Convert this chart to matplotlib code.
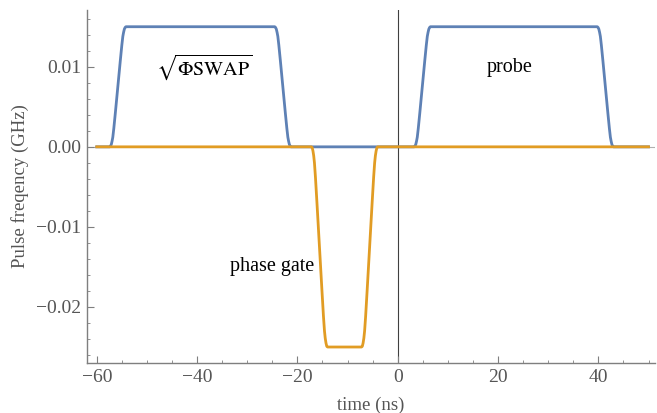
import matplotlib
matplotlib.use('Agg')
import matplotlib.pyplot as plt
from matplotlib.ticker import MultipleLocator

# sqrt(PhiSWAP) pulse + probe pulse (blue)
swap_t = [-60,
          -57.4, -57.25, -57.1, -56.95, -56.8, -56.6, -56.3, -55.8, -55.3, -55.0, -54.8, -54.65, -54.5, -54.35, -54.2,
          -24.5, -24.35, -24.2, -24.05, -23.9, -23.7, -23.4, -22.9, -22.4, -22.1, -21.9, -21.75, -21.6, -21.45, -21.3,
          3.3, 3.45, 3.6, 3.75, 3.9, 4.1, 4.4, 4.9, 5.4, 5.7, 5.9, 6.05, 6.2, 6.35, 6.5,
          39.8, 39.95, 40.1, 40.25, 40.4, 40.6, 40.9, 41.4, 41.9, 42.2, 42.4, 42.55, 42.7, 42.85, 43.0,
          50]
swap_f = [0,
          0, 0.0001, 0.0003, 0.0007, 0.0012, 0.0023, 0.0042, 0.0075, 0.0108, 0.0127, 0.0138, 0.0143, 0.0147, 0.0149, 0.015,
          0.015, 0.0149, 0.0147, 0.0143, 0.0138, 0.0127, 0.0108, 0.0075, 0.0042, 0.0023, 0.0012, 0.0007, 0.0003, 0.0001, 0,
          0, 0.0001, 0.0003, 0.0007, 0.0012, 0.0023, 0.0042, 0.0075, 0.0108, 0.0127, 0.0138, 0.0143, 0.0147, 0.0149, 0.015,
          0.015, 0.0149, 0.0147, 0.0143, 0.0138, 0.0127, 0.0108, 0.0075, 0.0042, 0.0023, 0.0012, 0.0007, 0.0003, 0.0001, 0,
          0]

# phase gate pulse (orange)
phase_t = [-60,
           -17.2, -17.05, -16.9, -16.75, -16.6, -16.4, -16.1, -15.6, -15.1, -14.8, -14.6, -14.45, -14.3, -14.15, -14.0,
           -7.2, -7.05, -6.9, -6.75, -6.6, -6.4, -6.1, -5.6, -5.1, -4.8, -4.6, -4.45, -4.3, -4.15, -4.0,
           50]
phase_f = [0,
           0, -0.0001, -0.0005, -0.0011, -0.002, -0.0038, -0.007, -0.0125, -0.018, -0.0212, -0.023, -0.0239, -0.0245, -0.0249, -0.025,
           -0.025, -0.0249, -0.0245, -0.0239, -0.023, -0.0212, -0.018, -0.0125, -0.007, -0.0038, -0.002, -0.0011, -0.0005, -0.0001, 0,
           0]

xticks = [-60, -40, -20, 0, 20, 40]
yticks = [-0.02, -0.01, 0.0, 0.01]

plt.rcParams['font.family'] = ['Liberation Serif', 'DejaVu Serif']
plt.rcParams['mathtext.fontset'] = 'stix'

fig = plt.figure(figsize=(6.57, 4.13), dpi=100)
ax = fig.add_axes([0.132, 0.121, 0.865, 0.855])

gray = '#7f7f7f'
ax.axhline(0, color='#b0b0b0', lw=0.8, zorder=1)
ax.axvline(0, color='#404040', lw=0.8, zorder=1)

ax.plot(swap_t, swap_f, color='#5e81b5', lw=2.0, solid_joinstyle='round', zorder=3)
ax.plot(phase_t, phase_f, color='#e19c24', lw=2.0, solid_joinstyle='round', zorder=4)

ax.set_xlim(-62, 51.3)
ax.set_ylim(-0.027, 0.0171)

ax.set_xticks(xticks)
ax.set_xticklabels(['\u2212%d' % -v if v < 0 else '%d' % v for v in xticks])
ax.set_yticks(yticks)
ax.set_yticklabels(['\u2212%.2f' % -v if v < 0 else '%.2f' % v for v in yticks])
ax.xaxis.set_minor_locator(MultipleLocator(5))
ax.yaxis.set_minor_locator(MultipleLocator(0.002))

ax.tick_params(which='both', direction='in', color=gray, labelcolor='#555555',
               labelsize=14, top=False, right=False)
ax.tick_params(which='major', length=5, width=0.8, pad=4)
ax.tick_params(which='minor', length=2.5, width=0.6)

for side in ['top', 'right']:
    ax.spines[side].set_visible(False)
for side in ['left', 'bottom']:
    ax.spines[side].set_color(gray)
    ax.spines[side].set_linewidth(1.0)

ax.set_xlabel('time (ns)', color='#555555', fontsize=13.5, labelpad=8)
ax.set_ylabel('Pulse freqency (GHz)', color='#555555', fontsize=13.5, labelpad=5)

ax.text(-38.5, 0.0099, r'$\sqrt{\Phi\mathrm{SWAP}}$', fontsize=14.5, ha='center', va='center')
ax.text(22.3, 0.0099, 'probe', fontsize=14.5, ha='center', va='center')
ax.text(-25.0, -0.0150, 'phase gate', fontsize=14.5, ha='center', va='center')

fig.savefig('out.png', dpi=100)
